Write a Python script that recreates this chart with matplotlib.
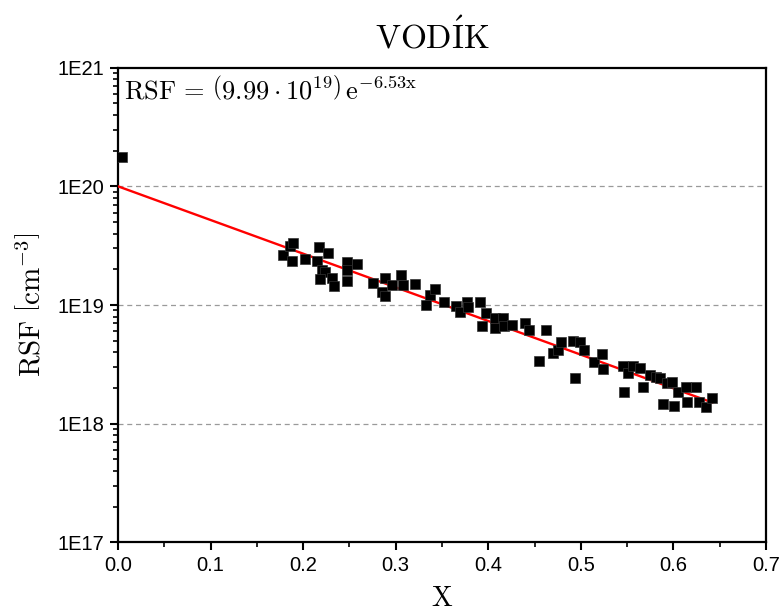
import numpy as np
import matplotlib
matplotlib.use("Agg")
import matplotlib.pyplot as plt
from matplotlib.ticker import FixedLocator, LogLocator, FuncFormatter, MultipleLocator, NullFormatter

# Measured relative sensitivity factors for hydrogen vs. composition x
x_data = [0.004, 0.178, 0.186, 0.189, 0.188, 0.202, 0.217, 0.227, 0.215, 0.220,
          0.224, 0.218, 0.231, 0.233, 0.247, 0.247, 0.247, 0.258, 0.276, 0.288,
          0.285, 0.288, 0.296, 0.306, 0.308, 0.321, 0.333, 0.337, 0.342, 0.352,
          0.365, 0.369, 0.377, 0.378, 0.391, 0.398, 0.393, 0.407, 0.407, 0.416,
          0.417, 0.426, 0.440, 0.444, 0.462, 0.455, 0.470, 0.475, 0.479, 0.492,
          0.499, 0.503, 0.494, 0.514, 0.523, 0.524, 0.545, 0.551, 0.556, 0.564,
          0.547, 0.567, 0.575, 0.581, 0.586, 0.593, 0.598, 0.605, 0.614, 0.624,
          0.615, 0.589, 0.601, 0.628, 0.635, 0.642]
rsf_data = [1.77e20, 2.64e19, 3.14e19, 3.31e19, 2.35e19, 2.43e19, 3.10e19, 2.76e19, 2.35e19, 1.97e19,
            1.91e19, 1.65e19, 1.68e19, 1.44e19, 2.32e19, 1.97e19, 1.59e19, 2.21e19, 1.52e19, 1.68e19,
            1.29e19, 1.19e19, 1.47e19, 1.79e19, 1.47e19, 1.50e19, 1.00e19, 1.21e19, 1.36e19, 1.07e19,
            9.8e18, 8.8e18, 1.05e19, 9.7e18, 1.07e19, 8.6e18, 6.65e18, 7.7e18, 6.4e18, 7.7e18,
            6.6e18, 6.8e18, 7.0e18, 6.2e18, 6.1e18, 3.4e18, 3.96e18, 4.18e18, 4.85e18, 4.98e18,
            4.85e18, 4.18e18, 2.44e18, 3.29e18, 3.85e18, 2.89e18, 3.06e18, 2.69e18, 3.06e18, 2.93e18,
            1.86e18, 2.03e18, 2.58e18, 2.49e18, 2.41e18, 2.19e18, 2.26e18, 1.86e18, 2.03e18, 2.03e18,
            1.53e18, 1.47e18, 1.41e18, 1.53e18, 1.39e18, 1.64e18]

# Exponential fit RSF = A * exp(-B x)
fit_A = 9.99e19
fit_B = 6.53

x_ticks = [0.0, 0.1, 0.2, 0.3, 0.4, 0.5, 0.6, 0.7]
y_ticks = [1e17, 1e18, 1e19, 1e20, 1e21]

title_text = r"$\mathrm{VOD\acute{I}K}$"
xlabel_text = r"$\mathrm{X}$"
ylabel_text = r"$\mathrm{RSF}\ \left[\mathrm{cm}^{-3}\right]$"
eq_text = r"$\mathrm{RSF}\, =\, \left(9.99\cdot 10^{19}\right)\,\mathrm{e}^{-6.53\mathrm{x}}$"

plt.rcParams["mathtext.fontset"] = "cm"
plt.rcParams["font.family"] = ["Liberation Sans", "DejaVu Sans"]

fig = plt.figure(figsize=(7.83, 6.15), dpi=100)
ax = fig.add_axes([0.1507, 0.1179, 0.8276, 0.7723])

ax.set_yscale("log")
ax.set_xlim(0, 0.7)
ax.set_ylim(1e17, 1e21)

# dashed guide lines at the inner decades
for yv in y_ticks[1:-1]:
    ax.axhline(yv, color="#9a9a9a", lw=0.9, ls=(0, (4, 3)), zorder=1)

xf = np.linspace(0, max(x_data), 200)
ax.plot(xf, fit_A * np.exp(-fit_B * xf), color="#ff0000", lw=1.7, zorder=3)
ax.plot(x_data, rsf_data, ls="none", marker="s", ms=7.0, mfc="black",
        mec="#333333", mew=0.5, zorder=4)

ax.xaxis.set_major_locator(FixedLocator(x_ticks))
ax.xaxis.set_minor_locator(MultipleLocator(0.05))
ax.xaxis.set_major_formatter(FuncFormatter(lambda v, p: f"{v:.1f}"))
ax.yaxis.set_major_locator(FixedLocator(y_ticks))
ax.yaxis.set_minor_locator(LogLocator(base=10, subs=np.arange(2, 10)))
ax.yaxis.set_minor_formatter(NullFormatter())
ax.yaxis.set_major_formatter(FuncFormatter(lambda v, p: f"1E{int(round(np.log10(v)))}"))

ax.tick_params(which="major", direction="out", length=6, width=1.5, labelsize=14.5,
               top=False, right=False, pad=4)
ax.tick_params(which="minor", direction="out", length=3.5, width=1.2, top=False, right=False)
for s in ax.spines.values():
    s.set_linewidth(1.6)

ax.set_title(title_text, fontsize=24, pad=14, x=0.485)
ax.set_xlabel(xlabel_text, fontsize=20, labelpad=8)
ax.set_ylabel(ylabel_text, fontsize=21, labelpad=8)
ax.text(0.010, 0.985, eq_text, transform=ax.transAxes, fontsize=19, va="top", ha="left")

fig.savefig("out.png", dpi=100)
